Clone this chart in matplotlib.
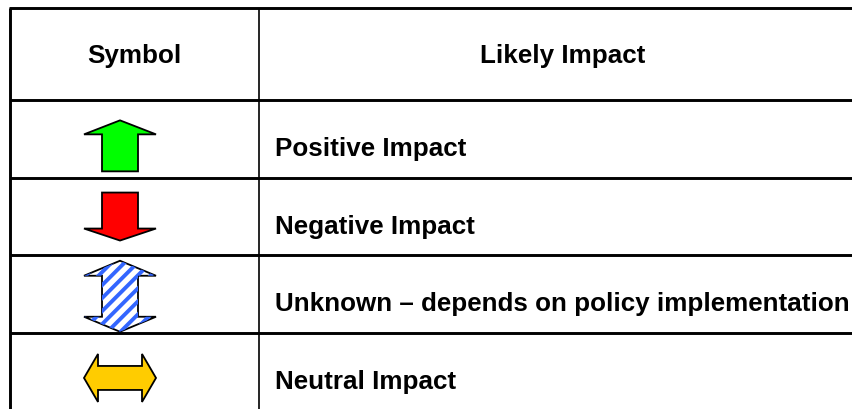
### Legend table: symbol -> likely impact

import numpy as np
from matplotlib import pyplot as plt
from matplotlib.patches import Polygon

###############################################################################
# Table content
###############################################################################

headers = ['Symbol', 'Likely Impact']
labels = ['Positive Impact',
          'Negative Impact',
          'Unknown \u2013 depends on policy implementation',
          'Neutral Impact']
symbols = ['up', 'down', 'updown', 'leftright']
fills = ['#00ff00', '#ff0000', 'stripes', '#ffcc00']

###############################################################################
# Layout (pixels, figure is 853 x 409)
###############################################################################

W, H = 853, 409
left, col_split, right = 10, 259, 867
top, header_bottom, row_h = 8, 100, 77.7
arrow_x = 120

plt.rcParams['font.family'] = ['Liberation Sans', 'DejaVu Sans']

fig = plt.figure(figsize=(W / 100, H / 100), dpi=100)
ax = fig.add_axes([0, 0, 1, 1])
ax.set_xlim(0, W)
ax.set_ylim(H, 0)
ax.axis('off')

thick = 2.1
thin = 1.2
fs = 18.7

# grid lines
ax.plot([left - 1, W], [top, top], color='black', lw=thick, solid_capstyle='butt')
ax.plot([left, left], [top, H], color='black', lw=thick, solid_capstyle='butt')
ax.plot([col_split, col_split], [top, H], color='black', lw=thin, solid_capstyle='butt')
row_lines = [header_bottom + i * row_h for i in range(len(labels))]
for y in row_lines:
    ax.plot([left, W], [y, y], color='black', lw=thick, solid_capstyle='butt')

# header text
ax.text((left + col_split) / 2, 63, headers[0], ha='center', va='baseline',
        fontsize=fs, fontweight='bold')
ax.text((col_split + right) / 2, 63, headers[1], ha='center', va='baseline',
        fontsize=fs, fontweight='bold')


def arrow_shape(kind, cx, cy):
    """vertices of an arrow centred at (cx, cy)"""
    hw, sw = 36, 18   # head half width, shaft half width
    if kind == 'up':
        t, b, hl = cy - 25.5, cy + 25.5, 14
        pts = [(cx, t), (cx + hw, t + hl), (cx + sw, t + hl), (cx + sw, b),
               (cx - sw, b), (cx - sw, t + hl), (cx - hw, t + hl)]
    elif kind == 'down':
        t, b, hl = cy - 24, cy + 24, 12
        pts = [(cx, b), (cx + hw, b - hl), (cx + sw, b - hl), (cx + sw, t),
               (cx - sw, t), (cx - sw, b - hl), (cx - hw, b - hl)]
    elif kind == 'updown':
        t, b, hl = cy - 35.5, cy + 35.5, 15
        pts = [(cx, t), (cx + hw, t + hl), (cx + sw, t + hl), (cx + sw, b - hl),
               (cx + hw, b - hl), (cx, b), (cx - hw, b - hl), (cx - sw, b - hl),
               (cx - sw, t + hl), (cx - hw, t + hl)]
    else:
        l, r, hl, hh, sh = cx - 36, cx + 36, 14, 24, 12
        pts = [(l, cy), (l + hl, cy - hh), (l + hl, cy - sh), (r - hl, cy - sh),
               (r - hl, cy - hh), (r, cy), (r - hl, cy + hh), (r - hl, cy + sh),
               (l + hl, cy + sh), (l + hl, cy + hh)]
    return np.array(pts)


arrow_dy = [7, 0, 2, 6]   # arrows sit a little off the row middle
for i, (lab, kind, fc) in enumerate(zip(labels, symbols, fills)):
    y0 = row_lines[i]
    cy = y0 + row_h / 2 + arrow_dy[i]
    pts = arrow_shape(kind, arrow_x, cy)
    if fc == 'stripes':
        base = Polygon(pts, closed=True, facecolor='white', edgecolor='none')
        ax.add_patch(base)
        for c in np.arange(-120, 120, 13):
            xs = np.array([arrow_x - 40, arrow_x + 40])
            ys = cy - (xs - arrow_x) + c
            ln, = ax.plot(xs, ys, color='#3366ff', lw=2.8)
            ln.set_clip_path(base)
        ax.add_patch(Polygon(pts, closed=True, facecolor='none',
                             edgecolor='black', lw=1.3, joinstyle='miter'))
    else:
        ax.add_patch(Polygon(pts, closed=True, facecolor=fc,
                             edgecolor='black', lw=1.3, joinstyle='miter'))
    ax.text(275, y0 + 56, lab, ha='left', va='baseline',
            fontsize=fs, fontweight='bold')

plt.savefig('out.png', dpi=100)
